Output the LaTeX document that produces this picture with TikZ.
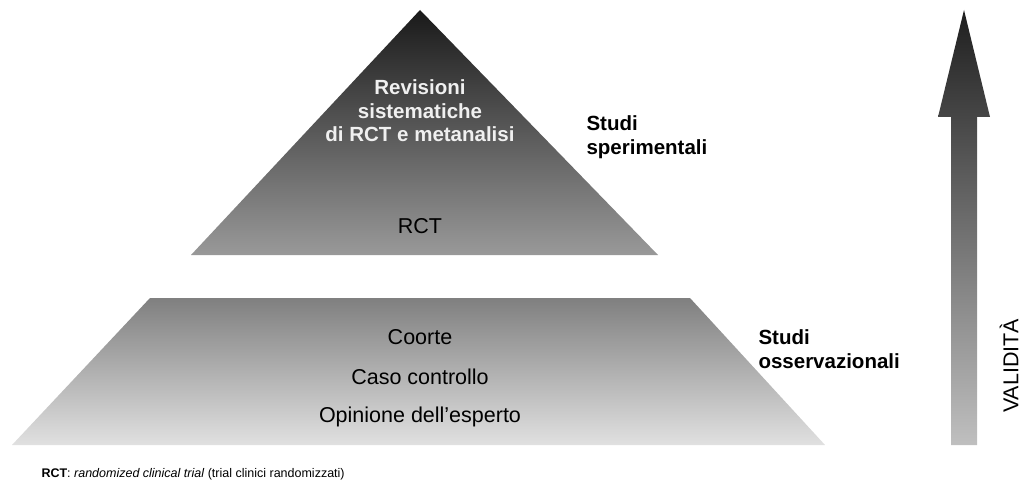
\documentclass[tikz,border=0pt]{standalone}
\usepackage{fontspec}
\setmainfont{Liberation Sans}
\begin{document}
\begin{tikzpicture}[x=1pt,y=-1pt,
  bigbold/.style={font=\bfseries\fontsize{20.5}{23.5}\selectfont},
  bigtext/.style={font=\fontsize{21.5}{24}\selectfont},
  sidelabel/.style={bigbold,anchor=west,align=left,text=black}]
\useasboundingbox (0,0) rectangle (1022,484);
% top pyramid (experimental studies)
\shade[top color=black!90, bottom color=black!40] (420,10) -- (658,255) -- (191,255) -- cycle;
% bottom trapezoid (observational studies)
\shade[top color=black!50, bottom color=black!12] (150,298) -- (690,298) -- (825,445) -- (12,445) -- cycle;
% validity arrow
\shade[top color=black!88, bottom color=black!25] (964,10) -- (990,117) -- (977,117) -- (977,445) -- (951,445) -- (951,117) -- (938,117) -- cycle;

\node[bigbold,align=center,text=white!94!black] (rev) at (420,111) {Revisioni\\sistematiche\\di RCT e metanalisi};
\node[bigtext] (rct) at (420,226) {RCT};
\node[sidelabel] (sper) at (583,137) {Studi\\sperimentali};
\node[sidelabel] (oss) at (755,349) {Studi\\osservazionali};
\node[bigtext] (coorte) at (420,337) {Coorte};
\node[bigtext] (caso) at (420,377) {Caso controllo};
\node[bigtext] (opinione) at (420,417) {Opinione dell’esperto};
\node[bigtext,rotate=90,inner sep=0pt] (valid) at (1009,366) {VALIDITÀ};
\node[anchor=west,font=\fontsize{12.5}{15}\selectfont] (note) at (38,474) {\textbf{RCT}: \textit{randomized clinical trial} (trial clinici randomizzati)};
\end{tikzpicture}
\end{document}
